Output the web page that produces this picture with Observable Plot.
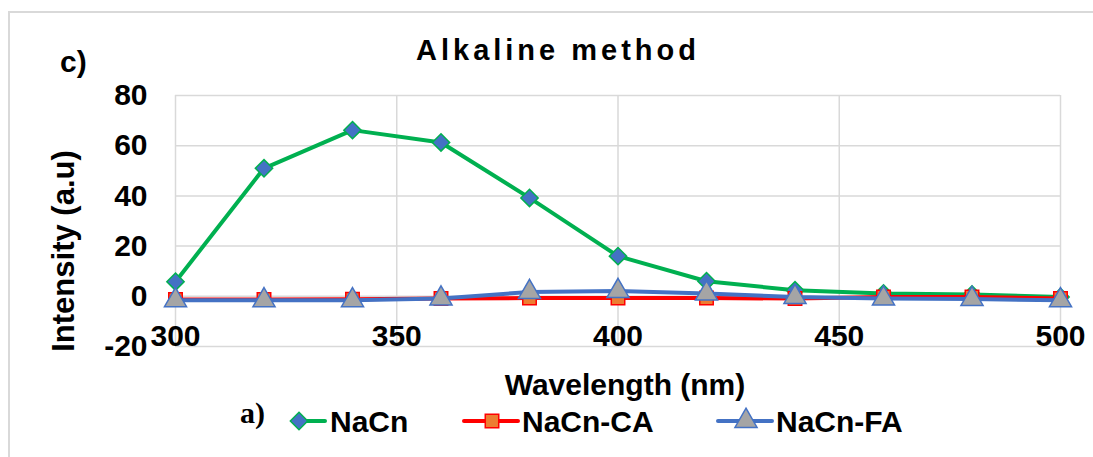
<!DOCTYPE html>
<html>
<head>
<meta charset="utf-8">
<script src="https://cdn.jsdelivr.net/npm/d3@7"></script>
<script src="https://cdn.jsdelivr.net/npm/@observablehq/plot@0.6"></script>
<style>
  html, body { margin: 0; padding: 0; background: #fff; }
  #wrap { position: relative; width: 1093px; height: 457px; overflow: hidden; font-family: "Liberation Sans", Arial, sans-serif; }
  #frame { position: absolute; left: 8px; top: 11px; width: 1100px; height: 460px; border-top: 2px solid #d9d9d9; border-left: 2px solid #d9d9d9; box-sizing: border-box; }
  #chart, #overlay { position: absolute; left: 0; top: 0; }
  #chart svg { overflow: visible; }
</style>
</head>
<body>
<div id="wrap">
  <div id="frame"></div>
  <div id="chart"></div>
  <svg id="overlay" width="1093" height="457"></svg>
</div>
<script>
// ---- data ----
const wavelengths = [300, 320, 340, 360, 380, 400, 420, 440, 460, 480, 500];
const nacn   = [5.8, 51, 66.2, 61.3, 39.2, 16, 6, 2.4, 1.1, 0.7, -0.3];
const nacnCA = [-1.3, -1.3, -1.2, -0.9, -0.7, -0.7, -0.7, -0.9, -0.3, -0.3, -0.9];
const nacnFA = [-1.6, -1.6, -1.6, -0.9, 1.7, 2.1, 1.1, -0.3, -0.9, -1.1, -1.6];
const seriesNames = ["NaCn", "NaCn-CA", "NaCn-FA"];
const xTicks = [300, 350, 400, 450, 500];
const yTicks = [-20, 0, 20, 40, 60, 80];
const titleText = "Alkaline method";
const panelLabel = "c)";
const legendPrefix = "a)";
const xLabel = "Wavelength (nm)";
const yLabel = "Intensity (a.u)";

// ---- styles ----
const styles = {
  "NaCn":    {line: "#00b050", fill: "#4472c4", symbol: "diamond2", r: 7.8},
  "NaCn-CA": {line: "#ff0000", fill: "#ed7d31", symbol: "square",   r: 7.6},
  "NaCn-FA": {line: "#4472c4", fill: "#a5a5a5", symbol: "triangle", r: 8.2}
};
const allValues = [nacn, nacnCA, nacnFA];
const rows = [];
seriesNames.forEach((s, i) => wavelengths.forEach((w, j) => rows.push({series: s, x: w, y: allValues[i][j]})));

const fmt = d => String(d);
const marks = [
  Plot.gridX(xTicks, {stroke: "#d9d9d9", strokeOpacity: 1, strokeWidth: 1.5}),
  Plot.gridY(yTicks, {stroke: "#d9d9d9", strokeOpacity: 1, strokeWidth: 1.5}),
  Plot.axisY(yTicks, {anchor: "left", tickSize: 0, tickPadding: 28, fontSize: 30, fontWeight: "bold", fill: "#000", label: null, tickFormat: fmt}),
  Plot.axisX(xTicks, {anchor: "bottom", tickSize: 0, tickPadding: 0, dy: -22, fontSize: 30, fontWeight: "bold", fill: "#000", label: null, tickFormat: fmt})
];
for (const s of seriesNames) {
  const st = styles[s];
  const d = rows.filter(r => r.series === s);
  marks.push(Plot.line(d, {x: "x", y: "y", stroke: st.line, strokeWidth: 4}));
  marks.push(Plot.dot(d, {x: "x", y: "y", symbol: () => st.symbol, r: st.r, fill: st.fill, stroke: st.line, strokeWidth: 1.5}));
}

const chart = Plot.plot({
  width: 1093,
  height: 457,
  marginLeft: 175,
  marginRight: 33,
  marginTop: 95,
  marginBottom: 111,
  style: {background: "transparent", fontFamily: "'Liberation Sans', Arial, sans-serif", overflow: "visible"},
  x: {domain: [300, 500], axis: null},
  y: {domain: [-20, 80], axis: null},
  symbol: {type: "identity"},
  marks
});
document.getElementById("chart").appendChild(chart);

// ---- overlay texts and legend ----
const ov = d3.select("#overlay");
const font = "'Liberation Sans', Arial, sans-serif";
ov.append("text").text(titleText).attr("x", 558).attr("y", 60)
  .attr("text-anchor", "middle").attr("font-family", font).attr("font-weight", "bold")
  .attr("font-size", 29).attr("letter-spacing", "4px");
ov.append("text").text(panelLabel).attr("x", 60).attr("y", 72)
  .attr("font-family", font).attr("font-weight", "bold").attr("font-size", 30);
ov.append("text").text(xLabel).attr("x", 625).attr("y", 395)
  .attr("text-anchor", "middle").attr("font-family", font).attr("font-weight", "bold").attr("font-size", 30);
ov.append("text").text(yLabel).attr("transform", "translate(74,251) rotate(-90)")
  .attr("text-anchor", "middle").attr("font-family", font).attr("font-weight", "bold").attr("font-size", 31);
ov.append("text").text(legendPrefix).attr("x", 240).attr("y", 423)
  .attr("font-family", "'Liberation Serif', 'Times New Roman', serif").attr("font-weight", "bold").attr("font-size", 30);

const legendPos = [
  {x1: 297, x2: 325, mx: 299, tx: 330},
  {x1: 464, x2: 518, mx: 492, tx: 522},
  {x1: 718, x2: 772, mx: 746, tx: 776}
];
const symMap = {diamond2: d3.symbolDiamond2, square: d3.symbolSquare, triangle: d3.symbolTriangle};
seriesNames.forEach((s, i) => {
  const st = styles[s], p = legendPos[i], ly = 421;
  ov.append("line").attr("x1", p.x1).attr("x2", p.x2).attr("y1", ly).attr("y2", ly)
    .attr("stroke", st.line).attr("stroke-width", 4).attr("stroke-linecap", "round");
  ov.append("path").attr("d", d3.symbol(symMap[st.symbol], Math.PI * st.r * st.r)())
    .attr("transform", `translate(${p.mx},${ly})`).attr("fill", st.fill).attr("stroke", st.line).attr("stroke-width", 1.5);
  ov.append("text").text(s).attr("x", p.tx).attr("y", 432)
    .attr("font-family", font).attr("font-weight", "bold").attr("font-size", 30);
});
</script>
</body>
</html>
